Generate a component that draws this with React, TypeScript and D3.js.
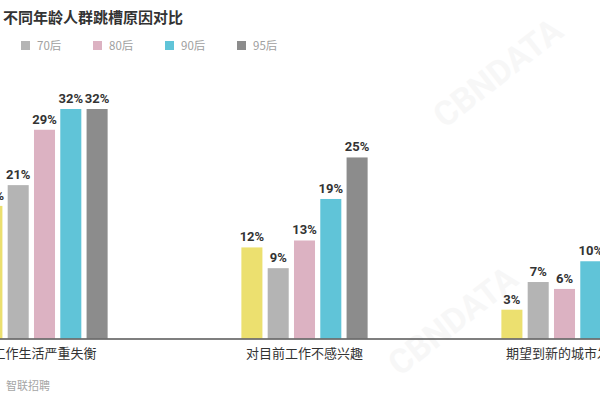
import React from 'react';
import * as d3 from 'd3';

const categories = ['工作生活严重失衡', '对目前工作不感兴趣', '期望到新的城市发展'];
const seriesNames = ['60后', '70后', '80后', '90后', '95后'];
const seriesColors = ['#ece06f', '#b4b4b4', '#dcb2c2', '#60c4d8', '#8c8c8c'];
const values60 = [18, 12, 3];
const values70 = [21, 9, 7];
const values80 = [29, 13, 6];
const values90 = [32, 19, 10];
const values95 = [32, 25, 11];
const seriesValues = [values60, values70, values80, values90, values95];

const title = '不同年龄人群跳槽原因对比';
const source = '智联招聘';
const watermark = 'CBNDATA';

const W = 600;
const H = 400;
const CJK = "'Noto Sans CJK SC', 'Noto Sans', sans-serif";
const NUM = "Roboto, 'Noto Sans CJK SC', sans-serif";

export default function App() {
  const groupX = d3.scaleBand<string>().domain(categories).range([-85.5, 694.5]).paddingInner(0).paddingOuter(0);
  const innerX = d3
    .scaleBand<string>()
    .domain(seriesNames)
    .range([-65.75, 65.75])
    .paddingInner(0.2)
    .paddingOuter(0.1);
  const yMin = -1.16;
  const y = d3.scaleLinear().domain([yMin, 32]).range([338.5, 109]);
  const legendX = d3.scaleLinear().domain([0, seriesNames.length - 1]).range([-51, 237]);

  const baseY = y(yMin);

  return (
    <svg
      width={W}
      height={H}
      style={{ position: 'absolute', left: 0, top: 0, background: '#fff' }}
    >
      <rect x={0} y={0} width={W} height={H} fill="#fff" />
      {/* faint watermarks */}
      <g fill="#f7f7f7" fontFamily={NUM} fontWeight={700} fontSize={34}>
        <text transform="translate(505,82) rotate(-38)" textAnchor="middle">{watermark}</text>
        <text transform="translate(460,330) rotate(-38)" textAnchor="middle">{watermark}</text>
      </g>

      {/* title */}
      <text x={3} y={23} fontFamily={CJK} fontWeight={700} fontSize={15} fill="#333">
        {title}
      </text>

      {/* legend */}
      {seriesNames.map((s, i) => (
        <g key={s} transform={`translate(${legendX(i)},0)`}>
          <rect x={0} y={41} width={9} height={9} fill={seriesColors[i]} />
          <text x={16} y={49.5} fontFamily={CJK} fontSize={11.5} fill="#a0a0a0">
            {s}
          </text>
        </g>
      ))}

      {/* bars */}
      {categories.map((c, ci) => (
        <g key={c} transform={`translate(${(groupX(c) ?? 0) + groupX.bandwidth() / 2},0)`}>
          {seriesNames.map((s, si) => {
            const v = seriesValues[si][ci];
            const bx = innerX(s) ?? 0;
            const bw = innerX.bandwidth();
            return (
              <g key={s}>
                <rect x={bx} y={y(v)} width={bw} height={baseY - y(v)} fill={seriesColors[si]} />
                <text
                  x={bx + bw / 2}
                  y={y(v) - 6}
                  textAnchor="middle"
                  fontFamily={NUM}
                  fontWeight={700}
                  fontSize={13}
                  fill="#333"
                >
                  {v}%
                </text>
              </g>
            );
          })}
          <text
            x={0}
            y={358}
            textAnchor="middle"
            fontFamily={CJK}
            fontSize={13}
            fill="#333"
          >
            {c}
          </text>
        </g>
      ))}

      {/* baseline */}
      <line x1={0} x2={W} y1={baseY + 0.5} y2={baseY + 0.5} stroke="#555" strokeWidth={1.5} />

      {/* source */}
      <text x={6} y={390} fontFamily={CJK} fontSize={11} fill="#a5a5a5">
        {source}
      </text>
    </svg>
  );
}
